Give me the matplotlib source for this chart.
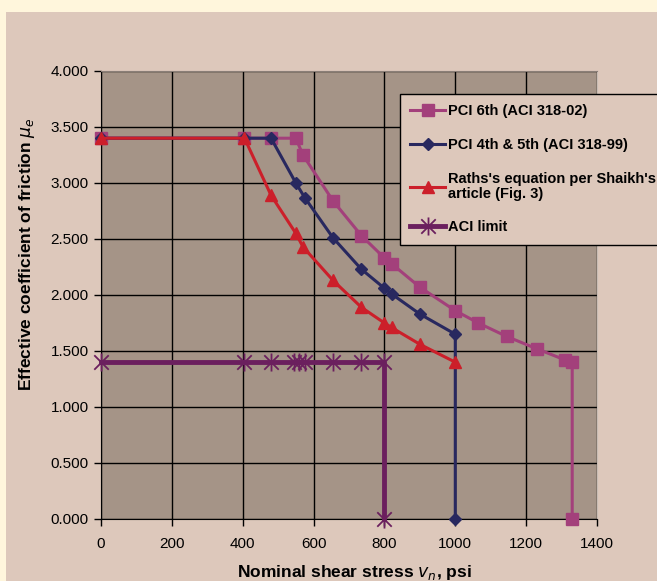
import matplotlib.pyplot as plt
from matplotlib.path import Path
from matplotlib.patches import Rectangle

plt.rcParams['font.family'] = ['Liberation Sans', 'DejaVu Sans']

# values
pci6_x = [0, 405, 480, 550, 570, 655, 735, 800, 820, 900, 1000, 1065, 1145, 1230, 1310, 1330, 1330]
pci6_y = [3.4, 3.4, 3.4, 3.4, 3.25, 2.84, 2.53, 2.33, 2.28, 2.07, 1.86, 1.75, 1.63, 1.52, 1.42, 1.40, 0.0]

pci45_x = [0, 405, 480, 550, 575, 655, 735, 800, 820, 900, 1000, 1000]
pci45_y = [3.4, 3.4, 3.4, 3.0, 2.87, 2.51, 2.23, 2.06, 2.01, 1.83, 1.65, 0.0]

raths_x = [0, 405, 480, 550, 570, 655, 735, 800, 820, 900, 1000]
raths_y = [3.4, 3.4, 2.89, 2.55, 2.43, 2.13, 1.89, 1.75, 1.71, 1.56, 1.40]

aci_x = [0, 405, 480, 545, 560, 575, 655, 735, 800, 800]
aci_y = [1.4, 1.4, 1.4, 1.4, 1.4, 1.4, 1.4, 1.4, 1.4, 0.0]

labels = ["PCI 6th (ACI 318-02)", "PCI 4th & 5th (ACI 318-99)",
          "Raths's equation per Shaikh's\narticle (Fig. 3)", "ACI limit"]

# excel style star: vertical bar plus an X
star = Path([(0, -1), (0, 1), (-0.8, -0.8), (0.8, 0.8), (-0.8, 0.8), (0.8, -0.8)],
            [Path.MOVETO, Path.LINETO, Path.MOVETO, Path.LINETO, Path.MOVETO, Path.LINETO])

fig = plt.figure(figsize=(6.57, 5.81), dpi=100)
fig.patch.set_facecolor('#ddc8bb')
# cream border on the left and top
fig.patches.append(Rectangle((0, 0), 6 / 657, 1, transform=fig.transFigure,
                             facecolor='#fff6dc', edgecolor='none'))
fig.patches.append(Rectangle((0, 1 - 12 / 581), 1, 12 / 581, transform=fig.transFigure,
                             facecolor='#fff6dc', edgecolor='none'))

ax = fig.add_axes([101 / 657, 1 - 519 / 581, 496 / 657, 448 / 581])
ax.set_zorder(2)
ax.set_facecolor('#a59487')

ax.plot(pci6_x, pci6_y, color='#a3407b', lw=2.2, marker='s', ms=9, mfc='#a3407b', mec='#a3407b', label=labels[0], zorder=3, clip_on=False)
ax.plot(pci45_x, pci45_y, color='#28285f', lw=2.2, marker='D', ms=6.5, mfc='#28285f', mec='#28285f', label=labels[1], zorder=4, clip_on=False)
ax.plot(raths_x, raths_y, color='#cc1f2a', lw=2.2, marker='^', ms=9, mfc='#cc1f2a', mec='#cc1f2a', label=labels[2], zorder=5, clip_on=False)
ax.plot(aci_x, aci_y, color='#6b1f5e', lw=3.5, marker=star, ms=13, mew=1.3, mfc='none', mec='#6b1f5e', label=labels[3], zorder=6, clip_on=False)

ax.set_xlim(0, 1400)
ax.set_ylim(0, 4)
ax.set_xticks(range(0, 1401, 200))
ax.set_yticks([i * 0.5 for i in range(9)])
ax.set_yticklabels([f"{i * 0.5:.3f}" for i in range(9)])
ax.grid(True, color='black', lw=1)
ax.set_axisbelow(True)
ax.tick_params(axis='both', labelsize=11, length=5, width=1, direction='out', colors='black', pad=4)
ax.tick_params(axis='x', pad=8)
ax.spines['top'].set_color('#8a7e77')
ax.spines['right'].set_color('#c8bcb4')

ax.set_xlabel(r"Nominal shear stress $\boldsymbol{v_n}$, psi", fontsize=12.5, fontweight='bold')
ax.xaxis.set_label_coords(0.51, (519 - 573) / 448)
ax.set_ylabel(r"Effective coefficient of friction $\boldsymbol{\mu_e}$", fontsize=12.5, fontweight='bold')
ax.yaxis.set_label_coords((27 - 101) / 496, (519 - 254) / 448)
ax.xaxis.label.set_va('center')
ax.yaxis.label.set_va('center')

leg = ax.legend(loc='upper left', bbox_to_anchor=(400 / 657, 1 - 94 / 581), bbox_transform=fig.transFigure,
                prop={'weight': 'bold', 'size': 10.5}, frameon=True, fancybox=False, framealpha=1,
                facecolor='#ddc8bb', edgecolor='black', handlelength=2.4, handletextpad=0.2,
                labelspacing=1.35, borderaxespad=0, borderpad=0.7)
leg.get_frame().set_linewidth(1)
leg.get_texts()[2].set_linespacing(1.1)
leg.set_zorder(10)

fig.savefig("out.png", dpi=100, facecolor=fig.get_facecolor())
